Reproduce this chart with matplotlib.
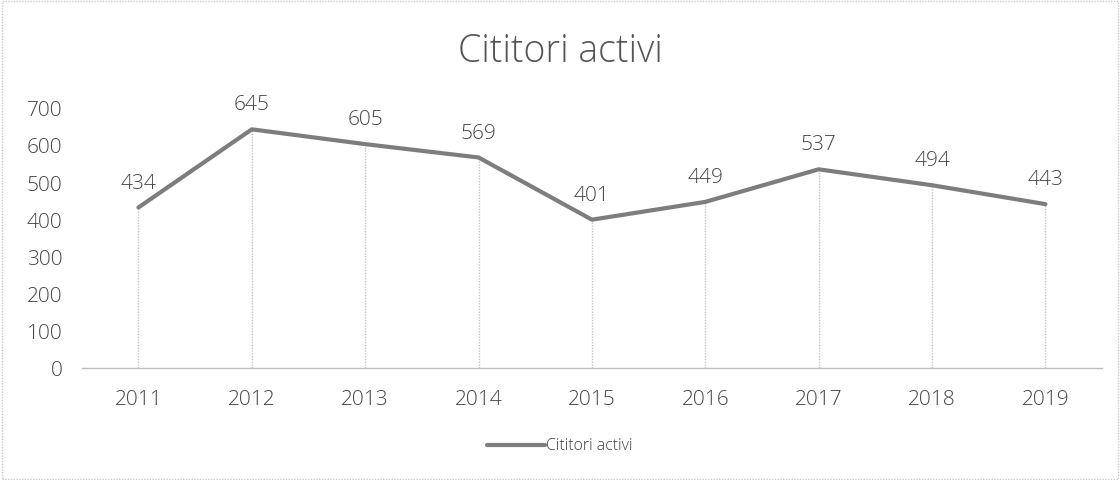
import matplotlib.pyplot as plt
from matplotlib.patches import Rectangle

years = ['2011', '2012', '2013', '2014', '2015', '2016', '2017', '2018', '2019']
readers = [434, 645, 605, 569, 401, 449, 537, 494, 443]
y_ticks = [0, 100, 200, 300, 400, 500, 600, 700]
series_name = 'Cititori activi'

plt.rcParams['font.family'] = ['Open Sans', 'DejaVu Sans']
plt.rcParams['font.weight'] = 'light'

fig = plt.figure(figsize=(11.2, 4.8), dpi=100)
ax = fig.add_axes([0.073, 0.233, 0.911, 0.54])

x = list(range(len(years)))

# drop lines from each point down to the axis
ax.vlines(x, 0, readers, color='#c4c4c4', linewidth=1, linestyle=(0, (1, 1)), zorder=1)
ax.plot(x, readers, color='#7d7d7d', linewidth=3, label=series_name, zorder=3,
        solid_capstyle='round')

for xi, v in zip(x, readers):
    ax.annotate(str(v), (xi, v), xytext=(0, 10), textcoords='offset points',
                ha='center', va='bottom', fontsize=15, color='#454545')

ax.set_xlim(-0.5, len(years) - 0.5)
ax.set_ylim(0, 700)
ax.set_xticks(x)
ax.set_xticklabels(years)
ax.set_yticks(y_ticks)
ax.tick_params(axis='both', length=0, labelsize=15, labelcolor='#454545')
ax.tick_params(axis='x', pad=16)
ax.tick_params(axis='y', pad=14)

for side in ['top', 'right', 'left']:
    ax.spines[side].set_visible(False)
ax.spines['bottom'].set_color('#bdbdbd')
ax.spines['bottom'].set_linewidth(1)

fig.text(0.5, 0.893, series_name, ha='center', va='center', fontsize=27,
         color='#555555')

fig.legend(loc='center', bbox_to_anchor=(0.5, 0.07), frameon=False, fontsize=11.5,
           handlelength=3.6, handletextpad=0.1, labelcolor='#404040')

# outer chart border
fig.patches.append(Rectangle((0.002, 0.003), 0.996, 0.994, transform=fig.transFigure,
                             fill=False, edgecolor='#c8c8c8', linewidth=1,
                             linestyle=(0, (1, 1))))

fig.savefig('out.png', dpi=100)
